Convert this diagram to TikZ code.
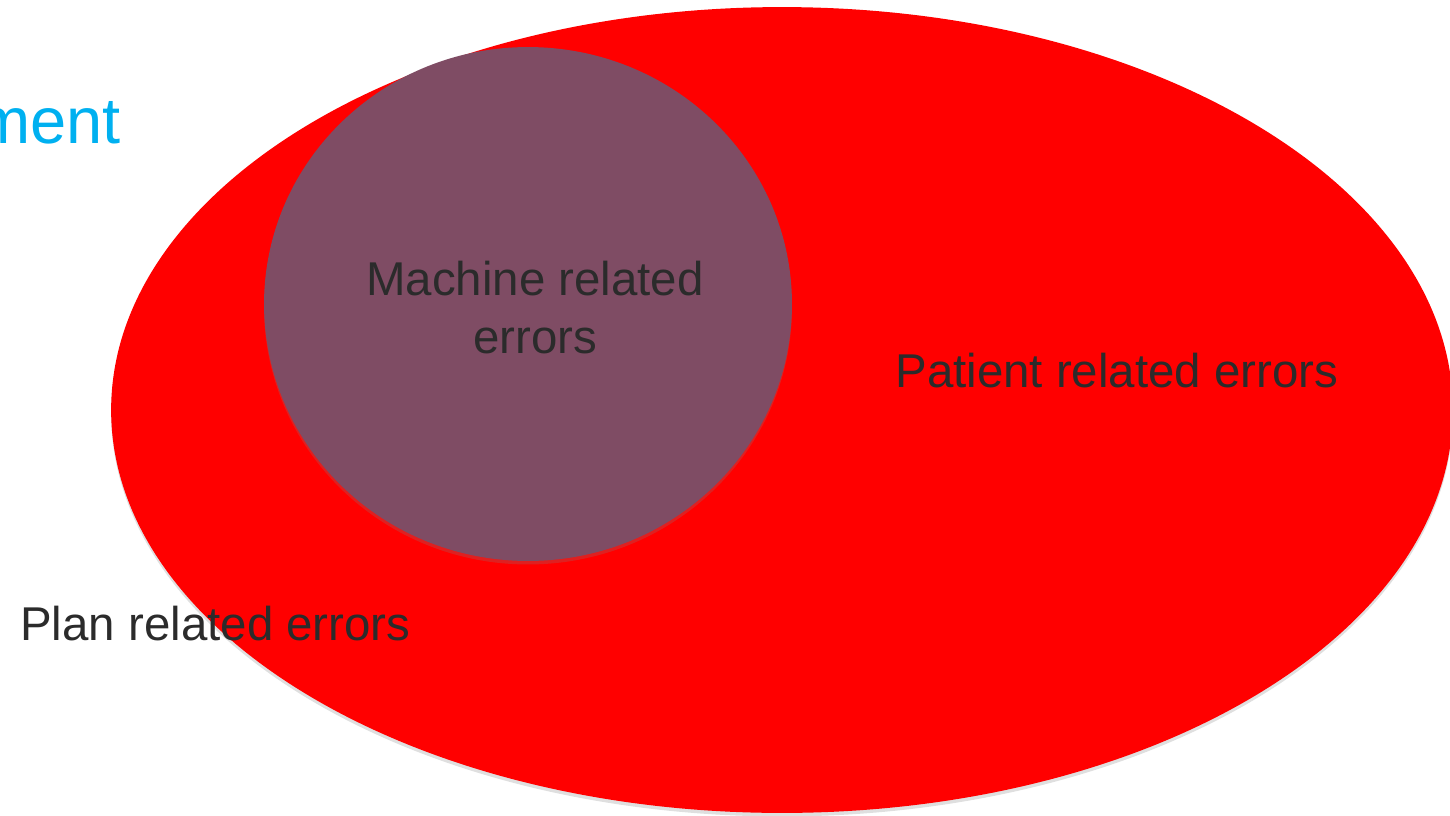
\documentclass[tikz,border=0pt]{standalone}
\usepackage{fontspec}
\setmainfont{Liberation Sans}
\usetikzlibrary{positioning, shapes.geometric, shadows}
\definecolor{errred}{HTML}{FF0000}
\definecolor{machpurple}{HTML}{7F4C64}
\definecolor{titleblue}{HTML}{00B0F0}
\definecolor{textgrey}{HTML}{2B2B2B}

\begin{document}
\begin{tikzpicture}[x=0.02cm, y=-0.02cm, set_shape/.style ={ellipse, draw=none, inner sep=0pt,
      drop shadow={opacity=0.25, shadow xshift=0pt, shadow yshift=-2pt}},
    set_label/.style ={text=textgrey, font=\fontsize{27}{33}\selectfont, inner sep=0pt}]
    \useasboundingbox (0,0) rectangle (1450,815);
    \node[anchor=base east, text=titleblue, inner sep=0pt, font=\fontsize{37}{44}\selectfont] (heading) at (121,143) {ment};
    \node[set_shape, fill=errred, minimum width=26.84cm, minimum height=16.12cm] (patient) at (782,410) {};
    \node[set_shape, fill=machpurple, minimum width=10.56cm, minimum height=10.28cm] (machine) at (528,304) {};
    \node[set_label, align=center, anchor=base] (machine_txt) at (535,353) {Machine related\\errors};
    \node[set_label, anchor=base west] (patient_txt) at (895,387) {Patient related errors};
    \node[set_label, anchor=base west] (plan_txt) at (20,640) {Plan related errors};
\end{tikzpicture}
\end{document}
